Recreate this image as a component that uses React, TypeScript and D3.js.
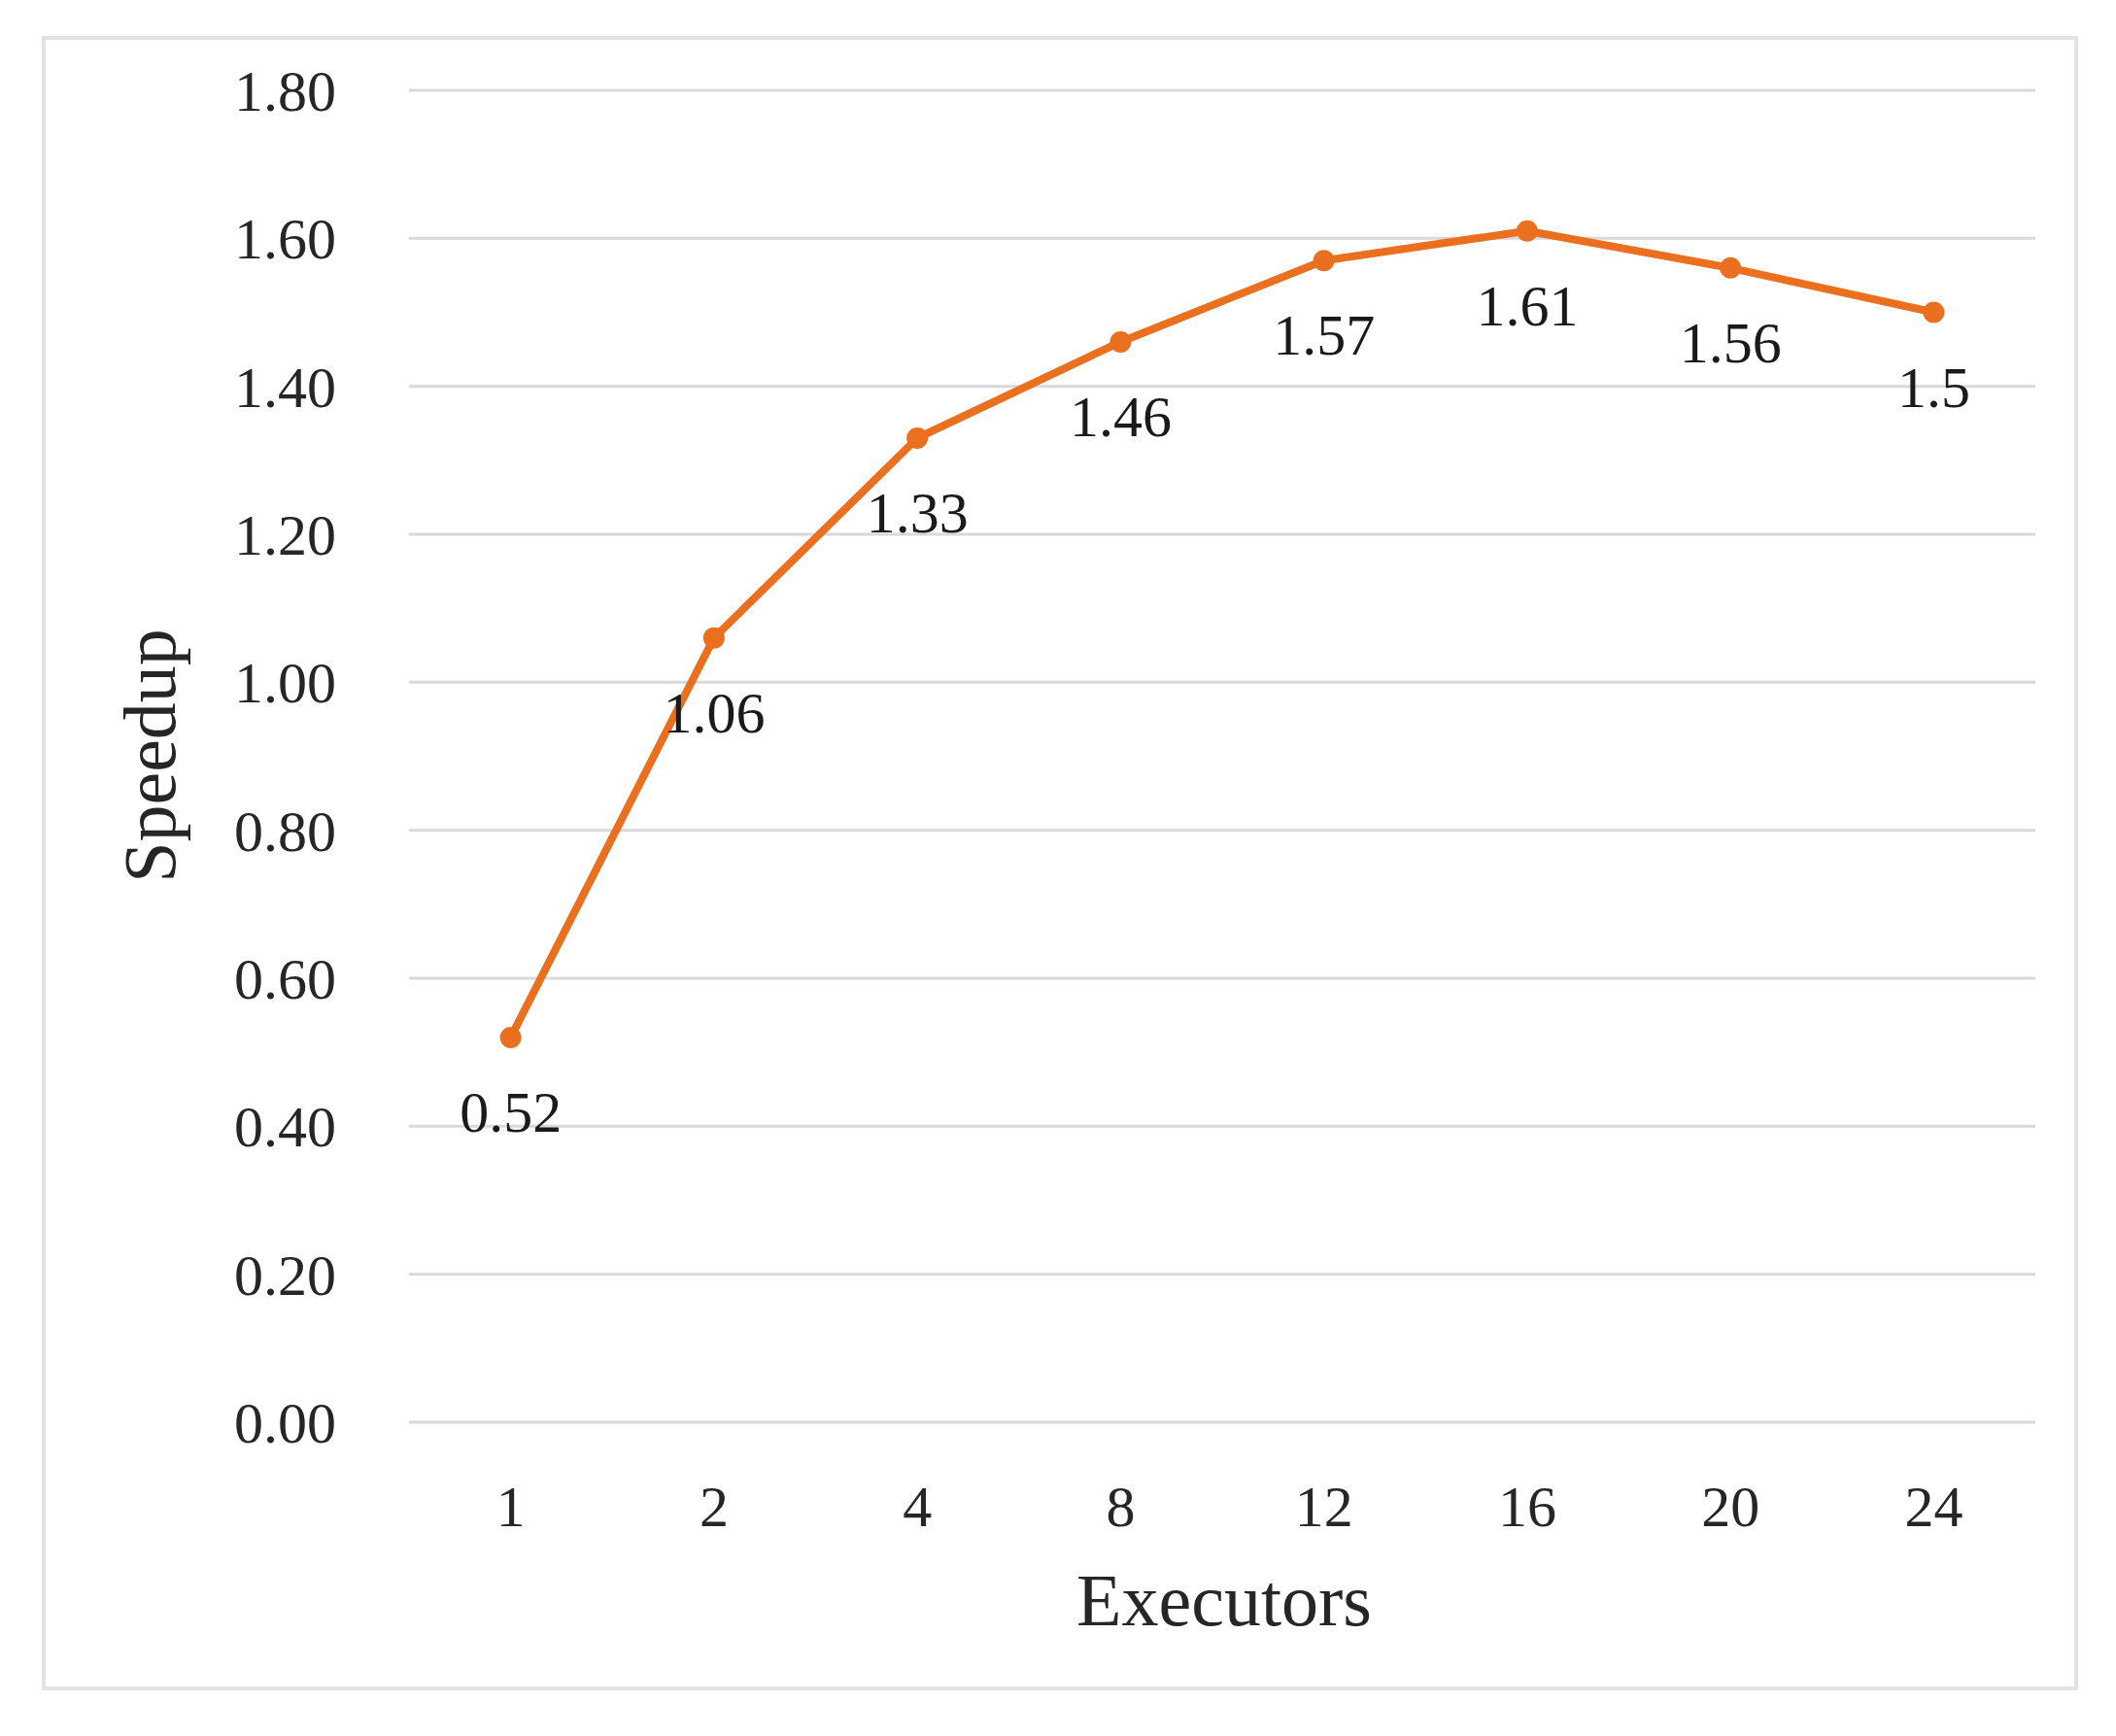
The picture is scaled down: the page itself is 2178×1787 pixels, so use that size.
import React from "react";
import * as d3 from "d3";

const categories: string[] = ["1", "2", "4", "8", "12", "16", "20", "24"];
const speedup: number[] = [0.52, 1.06, 1.33, 1.46, 1.57, 1.61, 1.56, 1.5];
const labels: string[] = ["0.52", "1.06", "1.33", "1.46", "1.57", "1.61", "1.56", "1.5"];
const yTicks: number[] = [0, 0.2, 0.4, 0.6, 0.8, 1.0, 1.2, 1.4, 1.6, 1.8];

const W = 2178;
const H = 1787;
const FONT = "'Liberation Serif', 'DejaVu Serif', serif";
const ORANGE = "#EA7020";

export default function App() {
  const left = 421, right = 2095, top = 93, bottom = 1464;
  const x = d3.scaleBand<string>().domain(categories).range([left, right]).padding(0);
  const y = d3.scaleLinear().domain([0, 1.8]).range([bottom, top]);
  const cx = (c: string) => (x(c) as number) + x.bandwidth() / 2;
  const line = d3
    .line<number>()
    .x((_, i) => cx(categories[i]))
    .y((d) => y(d));

  return (
    <svg
      width={W}
      height={H}
      style={{ position: "absolute", left: 0, top: 0, background: "#fff" }}
    >
      <rect x={0} y={0} width={W} height={H} fill="#fff" />
      <rect x={45} y={39} width={2092} height={1699} fill="#fff" stroke="#e3e3e3" strokeWidth={4} />
      {yTicks.map((t) => (
        <g key={t}>
          <line x1={left} x2={right} y1={y(t)} y2={y(t)} stroke="#d9d9d9" strokeWidth={3} />
          <text
            x={346}
            y={y(t)}
            dy="0.35em"
            textAnchor="end"
            fontFamily={FONT}
            fontSize={60}
            fill="#262626"
          >
            {t.toFixed(2)}
          </text>
        </g>
      ))}
      {categories.map((c) => (
        <text
          key={c}
          x={cx(c)}
          y={1571}
          textAnchor="middle"
          fontFamily={FONT}
          fontSize={60}
          fill="#262626"
        >
          {c}
        </text>
      ))}
      <path d={line(speedup) || ""} fill="none" stroke={ORANGE} strokeWidth={8} strokeLinejoin="round" />
      {speedup.map((v, i) => (
        <circle key={i} cx={cx(categories[i])} cy={y(v)} r={11} fill={ORANGE} />
      ))}
      {speedup.map((v, i) => (
        <text
          key={"l" + i}
          x={cx(categories[i])}
          y={y(v) + 97}
          textAnchor="middle"
          fontFamily={FONT}
          fontSize={60}
          fill="#1a1a1a"
        >
          {labels[i]}
        </text>
      ))}
      <text x={1260} y={1673} textAnchor="middle" fontFamily={FONT} fontSize={76} fill="#262626">
        Executors
      </text>
      <text
        transform={`translate(180, 778) rotate(-90)`}
        textAnchor="middle"
        fontFamily={FONT}
        fontSize={76}
        fill="#262626"
      >
        Speedup
      </text>
    </svg>
  );
}
